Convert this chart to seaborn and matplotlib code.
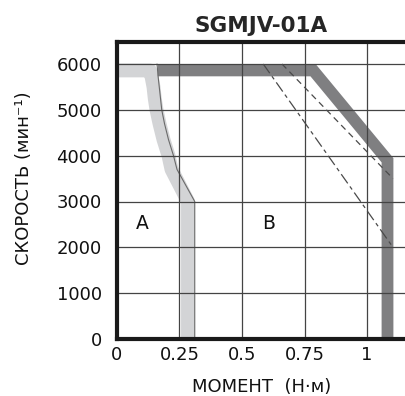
import matplotlib
matplotlib.use("Agg")
import matplotlib.pyplot as plt
import seaborn as sns
import pandas as pd

# ---- data (torque N·m, speed min^-1) ----
light_x = [0, 0.132, 0.139, 0.146, 0.151, 0.158, 0.170, 0.186, 0.206, 0.218, 0.284, 0.284]
light_y = [5860, 5860, 5700, 5500, 5250, 5000, 4700, 4350, 4000, 3700, 3000, 0]

edge_x = [0.160, 0.165, 0.171, 0.179, 0.190, 0.206, 0.226, 0.240, 0.311, 0.311]
edge_y = [6000, 5700, 5400, 5000, 4700, 4350, 4000, 3700, 3000, 0]

dark_x = [0.163, 0.785, 1.082, 1.082]
dark_y = [5860, 5860, 3900, 0]

dash1_x = [0.585, 1.104]
dash1_y = [6000, 2000]
dash2_x = [0.66, 1.104]
dash2_y = [6000, 3500]

x_ticks = [0, 0.25, 0.5, 0.75, 1.0]
x_ticklabels = ["0", "0.25", "0.5", "0.75", "1"]
y_ticks = [0, 1000, 2000, 3000, 4000, 5000, 6000]
y_ticklabels = ["0", "1000", "2000", "3000", "4000", "5000", "6000"]

title = "SGMJV-01A"
xlabel = "МОМЕНТ  (Н·м)"
ylabel = "СКОРОСТЬ (мин⁻¹)"
region_labels = ["A", "B"]
region_x = [0.10, 0.605]
region_y = [2530, 2530]

sns.set_style("white")
plt.rcParams['font.family'] = ['DejaVu Sans']

fig = plt.figure(figsize=(4.06, 3.96), dpi=100)
ax = fig.add_axes([117 / 406, 1 - 339 / 396, 1 - 117 / 406, (339 - 42) / 396])


def line(xs, ys, **kw):
    df = pd.DataFrame({"x": xs, "y": ys})
    sns.lineplot(data=df, x="x", y="y", sort=False, estimator=None, ax=ax, **kw)


line(light_x, light_y, color="#d3d4d6", linewidth=10, solid_capstyle="butt", solid_joinstyle="round", zorder=1)
line(edge_x, edge_y, color="#6a6a6a", linewidth=0.8, zorder=1.2)
line(dark_x, dark_y, color="#7f7f81", linewidth=8.5, solid_capstyle="butt", solid_joinstyle="miter", zorder=1.1)
line(dash1_x, dash1_y, color="#4a4a4a", linewidth=0.9, dashes=(9, 3, 3, 3), zorder=3)
line(dash2_x, dash2_y, color="#4a4a4a", linewidth=0.9, dashes=(5, 3.5), zorder=3)

ax.set_xlim(0, 1.156)
ax.set_ylim(0, 6480)
ax.set_xticks(x_ticks)
ax.set_xticklabels(x_ticklabels)
ax.set_yticks(y_ticks)
ax.set_yticklabels(y_ticklabels)
ax.grid(True, color="#444444", linewidth=0.9)
ax.set_axisbelow(False)
ax.tick_params(axis="both", length=0, labelsize=13, colors="#111111")
ax.tick_params(axis="y", pad=11)
ax.tick_params(axis="x", pad=5)

for side in ["left", "bottom", "top"]:
    ax.spines[side].set_visible(True)
    ax.spines[side].set_linewidth(3)
    ax.spines[side].set_color("#1a1a1a")
    ax.spines[side].set_zorder(4)
ax.spines["right"].set_visible(False)

ax.set_title(title, fontweight="bold", fontsize=15.5, pad=7)
ax.set_xlabel(xlabel, fontsize=13, labelpad=10, color="#111111")
ax.set_ylabel(ylabel, fontsize=13, color="#111111")
ax.yaxis.set_label_coords(-0.292, 0.54)

for lab, lx, ly in zip(region_labels, region_x, region_y):
    ax.text(lx, ly, lab, fontsize=13.5, ha="center", va="center", color="#111111")

fig.savefig("out.png", dpi=100)
